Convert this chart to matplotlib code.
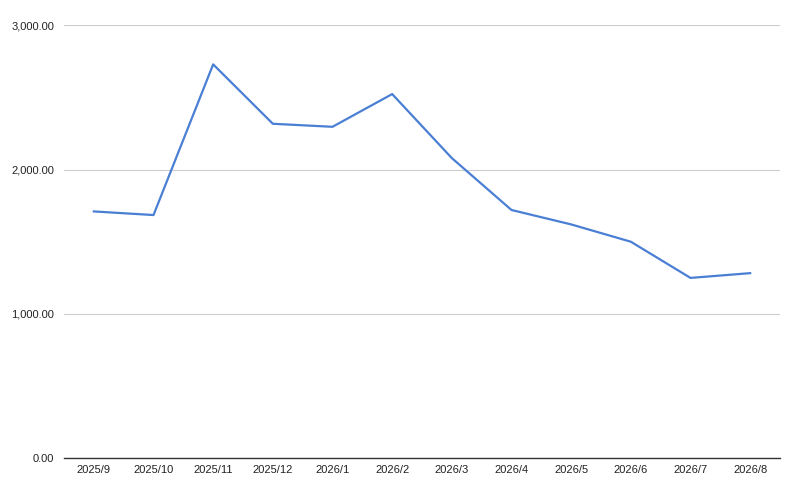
import matplotlib
matplotlib.use("Agg")
import matplotlib.pyplot as plt
from matplotlib.ticker import FuncFormatter

categories = ["2025/9", "2025/10", "2025/11", "2025/12", "2026/1", "2026/2",
              "2026/3", "2026/4", "2026/5", "2026/6", "2026/7", "2026/8"]
values = [1710, 1685, 2730, 2318, 2297, 2524, 2080, 1720, 1620, 1500, 1249, 1282]
y_ticks = [0, 1000, 2000, 3000]

plt.rcParams['font.family'] = ['Liberation Sans', 'DejaVu Sans']

fig = plt.figure(figsize=(8, 4.91), dpi=100)
ax = fig.add_axes([0.08, 0.0672, 0.895, 0.881])

x = list(range(len(categories)))
ax.plot(x, values, color='#4a7fd4', linewidth=1.6, zorder=3)

ax.set_xlim(-0.5, len(categories) - 0.5)
ax.set_ylim(0, 3000)
ax.set_yticks(y_ticks)
ax.yaxis.set_major_formatter(FuncFormatter(lambda v, p: f"{v:,.2f}"))
ax.set_xticks(x)
ax.set_xticklabels(categories)

ax.grid(axis='y', color='#cccccc', linewidth=0.8)
ax.set_axisbelow(True)
for s in ['top', 'right', 'left']:
    ax.spines[s].set_visible(False)
ax.spines['bottom'].set_color('#333333')
ax.spines['bottom'].set_linewidth(1.0)
ax.tick_params(axis='both', length=0, labelsize=8, colors='#222222')
ax.tick_params(axis='y', pad=7)
ax.tick_params(axis='x', pad=5)

fig.savefig("out.png", dpi=100, facecolor='white')
